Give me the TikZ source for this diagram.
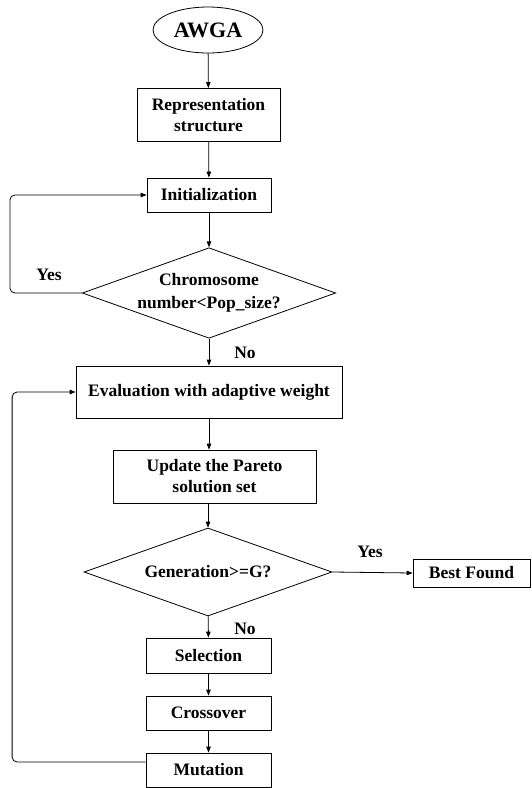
\documentclass[tikz,border=0pt]{standalone}
\usepackage{fontspec}
\setmainfont{Liberation Serif}
\usepackage{tikz}
\usetikzlibrary{arrows.meta,shapes.geometric}

\begin{document}
\begin{tikzpicture}[x=1pt,y=-1pt,
    txt/.style={font=\bfseries\fontsize{17.5}{21}\selectfont}]
\useasboundingbox (0,0) rectangle (531,788);
\begin{scope}[every node/.style={txt,draw,line width=0.8pt,align=center,inner sep=0pt}]
    \node[ellipse,minimum width=110pt,minimum height=46pt,
          font=\bfseries\fontsize{22}{24}\selectfont] (awga) at (208,30) {AWGA};
    \node[minimum width=143pt,minimum height=53pt] (rep) at (208.5,115) {Representation\\structure};
    \node[minimum width=124pt,minimum height=34pt] (init) at (209,195) {Initialization};
    \node[diamond,aspect=2.8,minimum width=248pt,minimum height=89pt,
          font=\bfseries\fontsize{17.5}{23.5}\selectfont] (chk) at (209,293)
        {Chromosome\\number<Pop\_size?};

    \node[minimum width=266pt,minimum height=52pt] (eval) at (209,392) {Evaluation with adaptive weight};
    \node[minimum width=203pt,minimum height=53pt] (upd) at (214.5,476.5) {Update the Pareto\\solution set};
    \node[diamond,aspect=2.8,minimum width=248pt,minimum height=88pt] (gen) at (208,572) {Generation>=G?};
    \node[minimum width=117pt,minimum height=28pt] (best) at (471.5,573) {Best Found};

    \node[minimum width=125pt,minimum height=35pt] (sel) at (208.5,655.5) {Selection};
    \node[minimum width=125pt,minimum height=34pt] (cross) at (208.5,713) {Crossover};
    \node[minimum width=125pt,minimum height=34pt] (mut) at (208.5,770) {Mutation};
\end{scope}

\begin{scope}[every node/.style={txt}]
    \node (yes1) at (49,275) {Yes};
    \node (no1) at (245,353) {No};
    \node (yes2) at (370,552) {Yes};
    \node (no2) at (245,629) {No};
\end{scope}

\begin{scope}[>={Triangle[length=6pt,width=4.5pt]},
              every edge/.style={draw=black,line width=0.8pt}]
    \path [->] (awga) edge (rep);
    \path [->] (rep) edge (init);
    \path [->] (init) edge (chk);
    \path [->] (chk) edge (eval);
    \path [->] (eval.south) edge (eval.south |- upd.north);
    \path [->] (upd.south -| gen) edge (gen.north);
    \path [->] (gen.east) edge (best.west);
    \path [->] (gen) edge (sel);
    \path [->] (sel) edge (cross);
    \path [->] (cross) edge (mut);

    \draw [->,line width=0.8pt,rounded corners=5pt] (chk.west) -- ++(-72,0) |- (init.west);
    \draw [->,line width=0.8pt,rounded corners=5pt] ([yshift=8pt]mut.west) -- ++(-133.5,0) |- (eval.west);
\end{scope}
\end{tikzpicture}
\end{document}
